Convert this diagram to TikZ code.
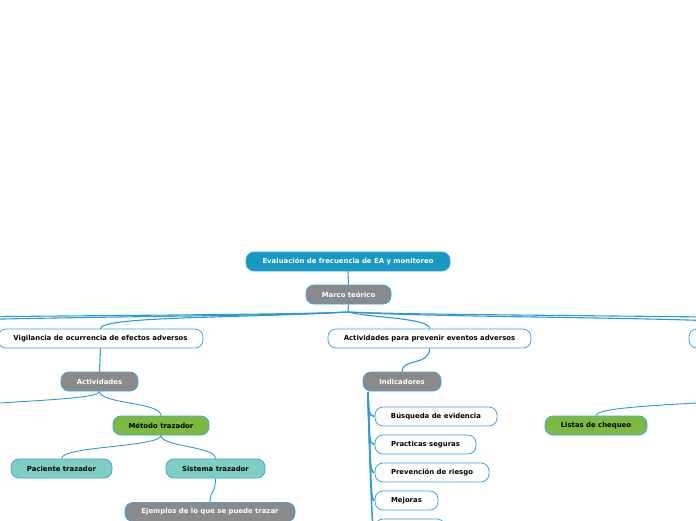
\documentclass[tikz,border=0pt]{standalone}
\usepackage{fontspec}
\setmainfont{DejaVu Sans}
\definecolor{linecol}{HTML}{2A9ADB}
\definecolor{bordercol}{HTML}{3EA6E4}
\definecolor{titlecol}{HTML}{1799C2}
\definecolor{graycol}{HTML}{8A8A8C}
\definecolor{greencol}{HTML}{7CB940}
\definecolor{tealcol}{HTML}{7FCEC4}
\begin{document}
\begin{tikzpicture}[x=1pt,y=-1pt,
  box/.style={rounded corners=8pt, draw=bordercol, line width=0.8pt, minimum height=19pt, inner sep=0pt, font=\fontsize{6.9}{8}\selectfont\bfseries, anchor=center},
  titlebox/.style={box, fill=titlecol, text=white},
  graybox/.style={box, fill=graycol, text=white},
  whitebox/.style={box, fill=white, text=black},
  greenbox/.style={box, fill=greencol, text=black},
  tealbox/.style={box, fill=tealcol, text=black},
  conn/.style={draw=linecol, line width=1.1pt},
  thinconn/.style={draw=linecol, line width=0.9pt},
  trunkconn/.style={draw=linecol, line width=1.5pt}]
\useasboundingbox (0,0) rectangle (696,520);
\clip (0,0) rectangle (696,520);
\fill[white] (0,0) rectangle (696,520);

% off-screen anchor points
\coordinate (hub) at (348,312);
\coordinate (offL1) at (-150,329);
\coordinate (offL2) at (-380,329);
\coordinate (offR2) at (1000,329);
\coordinate (offA) at (-70,416);
\coordinate (offRB) at (790,392);
\coordinate (indstart) at (368,392);

% connectors to off-screen branches
\draw[conn] (hub) .. controls (250,318) and (-150,316) .. (offL1);
\draw[conn] (hub) .. controls (250,317) and (-380,315) .. (offL2);
\draw[conn] (hub) .. controls (460,319) and (789,316) .. (789,329);
\draw[conn] (hub) .. controls (460,317) and (1000,315) .. (offR2);

\node[titlebox, minimum width=204pt] (title) at (348,261.5) {Evaluación de frecuencia de EA y monitoreo};
\node[graybox, minimum width=85pt] (marco) at (348.5,294.5) {Marco teórico};
\node[whitebox, minimum width=205pt] (vig) at (100.5,338.5) {Vigilancia de ocurrencia de efectos adversos};
\node[whitebox, minimum width=203pt] (prev) at (429.5,338.5) {Actividades para prevenir eventos adversos};
\node[whitebox, minimum width=200pt] (rnode) at (789,338.5) {};
\node[graybox, minimum width=77pt] (act) at (99.5,381.5) {Actividades};
\node[graybox, minimum width=78pt] (ind) at (402,381.5) {Indicadores};
\node[greenbox, minimum width=96pt] (metodo) at (161,425.5) {Método trazador};
\node[tealbox, minimum width=101pt] (paciente) at (61.5,468.5) {Paciente trazador};
\node[tealbox, minimum width=99pt] (sistema) at (215.5,468.5) {Sistema trazador};
\node[graybox, minimum width=170pt] (ejemplos) at (210,512) {Ejemplos de lo que se puede trazar};
\node[whitebox, minimum width=122pt] (busq) at (436,416.5) {Búsqueda de evidencia};
\node[whitebox, minimum width=101pt] (pract) at (425.5,444.5) {Practicas seguras};
\node[whitebox, minimum width=114pt] (prevr) at (432,472.5) {Prevención de riesgo};
\node[whitebox, minimum width=63pt] (mejoras) at (406.5,500.5) {Mejoras};
\node[whitebox, minimum width=70pt] (quinto) at (410,528.5) {};
\node[greenbox, minimum width=102pt] (listas) at (596,425.5) {Listas de chequeo};

\draw[conn] (title.south) -- (marco.north);
\draw[conn] (marco.south) -- (hub);
\draw[conn] (hub) .. controls (250,318) and (100,316) .. (vig.north);
\draw[conn] (hub) .. controls (372,318) and (430,318) .. (prev.north);
\draw[conn] (vig.south) -- (act.north);
\draw[conn] (prev.south) .. controls (430,366) and (402,358) .. (ind.north);
\draw[thinconn] (act.south) .. controls (100,403) and (-70,400) .. (offA);
\draw[thinconn] (act.south) .. controls (100,404) and (161,402) .. (metodo.north);
\draw[thinconn] (metodo.south) .. controls (161,447) and (61.5,446) .. (paciente.north);
\draw[thinconn] (metodo.south) .. controls (161,447) and (215.5,446) .. (sistema.north);
\draw[thinconn] (sistema.south) .. controls (215.5,494) and (210,490) .. (ejemplos.north);
\draw[thinconn] (offRB) .. controls (790,404) and (596,402) .. (listas.north);
\draw[trunkconn] (indstart) .. controls (368,410) and (369,416.5) .. (busq.west);
\draw[trunkconn] (indstart) .. controls (369,438) and (369,444.5) .. (pract.west);
\draw[trunkconn] (indstart) .. controls (370,466) and (370,472.5) .. (prevr.west);
\draw[trunkconn] (indstart) .. controls (371,494) and (371,500.5) .. (mejoras.west);
\draw[trunkconn] (indstart) .. controls (372,522) and (372,528.5) .. (quinto.west);
\end{tikzpicture}
\end{document}
